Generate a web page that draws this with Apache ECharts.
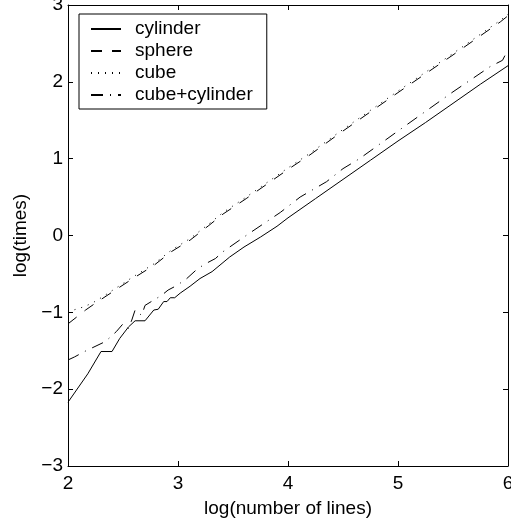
<!DOCTYPE html>
<html>
<head>
<meta charset="utf-8">
<script src="https://cdn.jsdelivr.net/npm/echarts@6/dist/echarts.min.js"></script>
<style>
  html, body { margin: 0; padding: 0; background: #fff; }
  #chart { width: 511px; height: 524px; }
</style>
</head>
<body>
<div id="chart"></div>
<script>
// values (log10 scale on both axes)
const cylinderX = [2.00, 2.18, 2.30, 2.40, 2.47, 2.55, 2.61, 2.70, 2.78, 2.82, 2.87, 2.90, 2.93, 2.97, 3.02, 3.11, 3.20, 3.31, 3.47, 3.60, 3.75, 3.90, 4.00, 4.25, 4.50, 4.75, 5.00, 5.25, 5.50, 5.75, 6.00]
const cylinderY = [-2.17, -1.80, -1.51, -1.51, -1.34, -1.19, -1.11, -1.11, -0.97, -0.96, -0.86, -0.86, -0.81, -0.81, -0.75, -0.66, -0.56, -0.47, -0.28, -0.15, -0.02, 0.12, 0.23, 0.48, 0.73, 0.98, 1.23, 1.47, 1.72, 1.97, 2.21]

const sphereX = [2.00, 2.16, 2.25, 2.43, 2.59, 2.78, 2.94, 3.11, 3.28, 3.41, 3.62, 4.00, 4.20, 4.47, 5.00, 5.50, 5.93, 6.00]
const sphereY = [-1.15, -0.97, -0.88, -0.71, -0.56, -0.39, -0.21, -0.06, 0.13, 0.28, 0.48, 0.86, 1.05, 1.33, 1.86, 2.35, 2.78, 2.86]

const cubeX = [2.00, 2.05, 2.14, 2.22, 2.29, 2.43, 2.59, 2.78, 2.94, 3.11, 3.28, 3.41, 3.62, 4.00, 4.20, 4.47, 5.00, 5.50, 5.93, 6.00]
const cubeY = [-1.00, -0.97, -0.93, -0.88, -0.82, -0.69, -0.54, -0.37, -0.19, -0.04, 0.15, 0.30, 0.50, 0.88, 1.07, 1.35, 1.88, 2.37, 2.80, 2.88]

const bothX = [2.00, 2.06, 2.15, 2.34, 2.44, 2.50, 2.55, 2.58, 2.61, 2.67, 2.70, 2.78, 2.85, 2.91, 2.99, 3.08, 3.18, 3.26, 3.34, 3.41, 3.65, 3.93, 4.11, 4.35, 4.50, 4.65, 5.00, 5.50, 5.84, 5.95, 6.00]
const bothY = [-1.62, -1.58, -1.51, -1.38, -1.25, -1.15, -1.21, -1.10, -0.97, -1.04, -0.91, -0.84, -0.78, -0.71, -0.65, -0.56, -0.43, -0.36, -0.30, -0.21, 0.03, 0.30, 0.50, 0.70, 0.87, 1.00, 1.36, 1.87, 2.20, 2.28, 2.42]

const xTicks = [2, 3, 4, 5, 6]
const yTicks = [-3, -2, -1, 0, 1, 2, 3]

const font = "'Liberation Sans', Arial, Helvetica, sans-serif"

const zip = (xs, ys) => xs.map((x, i) => [x, ys[i]])
const minus = v => String(v).replace('-', '\u2212')

const lineSeries = (name, xs, ys, type) => ({
    name: name,
    type: 'line',
    data: zip(xs, ys),
    symbol: 'none',
    smooth: false,
    lineStyle: { color: '#000', width: 1, type: type },
    itemStyle: { color: '#000' }
})

const baseX = {
    type: 'value',
    min: xTicks[0],
    max: xTicks[xTicks.length - 1],
    interval: 1,
    axisLine: { show: true, onZero: false, lineStyle: { color: '#000', width: 1 } },
    axisTick: { show: true, inside: true, length: 5, lineStyle: { color: '#000' } },
    splitLine: { show: false }
}
const baseY = {
    type: 'value',
    min: yTicks[0],
    max: yTicks[yTicks.length - 1],
    interval: 1,
    axisLine: { show: true, onZero: false, lineStyle: { color: '#000', width: 1 } },
    axisTick: { show: true, inside: true, length: 5, lineStyle: { color: '#000' } },
    splitLine: { show: false }
}

const myChart = echarts.init(document.getElementById('chart'))
const option = {
    animation: false,
    backgroundColor: '#fff',
    grid: { left: 68, right: 3, top: 5, bottom: 58, containLabel: false, outerBoundsMode: 'none' },
    legend: {
        orient: 'vertical',
        left: 79,
        top: 14,
        padding: [4, 14, 3, 11],
        itemWidth: 30,
        itemHeight: 22,
        itemGap: 0,
        borderColor: '#000',
        borderWidth: 1,
        borderRadius: 0,
        backgroundColor: '#fff',
        // hide the circle marker the legend adds for line series
        itemStyle: { color: 'rgba(0,0,0,0)', borderColor: 'rgba(0,0,0,0)', borderWidth: 0 },
        textStyle: { fontSize: 19, fontFamily: font, color: '#000', lineHeight: 22, padding: [0, 0, 0, 9] },
        data: ['cylinder', 'sphere', 'cube', 'cube+cylinder']
    },
    xAxis: [
        Object.assign({}, baseX, {
            position: 'bottom',
            name: 'log(number of lines)',
            nameLocation: 'middle',
            nameGap: 33,
            nameTextStyle: { fontSize: 19, fontFamily: font, color: '#000' },
            axisLabel: { fontSize: 19, fontFamily: font, color: '#000', margin: 8, formatter: minus }
        }),
        Object.assign({}, baseX, { position: 'top', axisLabel: { show: false } })
    ],
    yAxis: [
        Object.assign({}, baseY, {
            position: 'left',
            name: 'log(times)',
            nameLocation: 'middle',
            nameGap: 36,
            nameRotate: 90,
            nameTextStyle: { fontSize: 19, fontFamily: font, color: '#000' },
            axisLabel: { fontSize: 19, fontFamily: font, color: '#000', margin: 5, formatter: minus }
        }),
        Object.assign({}, baseY, { position: 'right', axisLabel: { show: false } })
    ],
    series: [
        lineSeries('cylinder', cylinderX, cylinderY, 'solid'),
        lineSeries('sphere', sphereX, sphereY, [11, 10]),
        lineSeries('cube', cubeX, cubeY, [1, 6]),
        lineSeries('cube+cylinder', bothX, bothY, [12, 7, 1, 7])
    ]
}
myChart.setOption(option)
</script>
</body>
</html>
